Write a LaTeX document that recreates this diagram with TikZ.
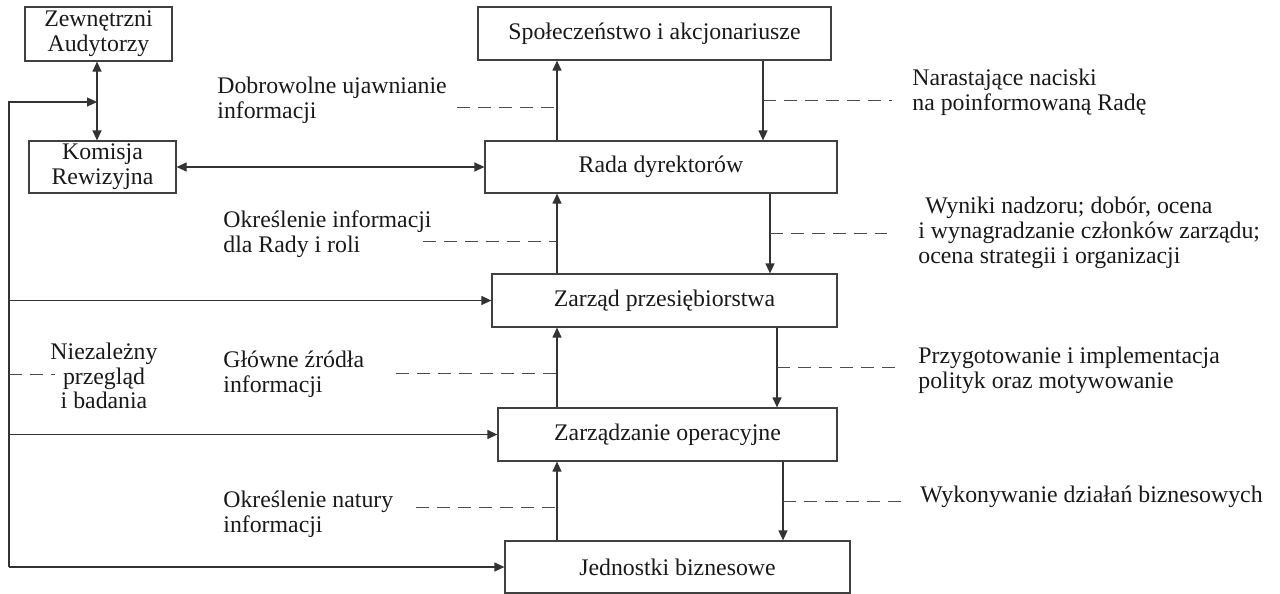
\documentclass[tikz,border=0pt]{standalone}
\usepackage{fontspec}
\setmainfont{Liberation Serif}
\usetikzlibrary{arrows.meta}
\begin{document}
\begin{tikzpicture}[x=0.5pt,y=-0.5pt,
  every node/.style={font=\fontsize{11.9}{12.4}\selectfont, text=black!90},
  box/.style={draw=black!75, line width=0.6pt, rectangle, inner sep=0pt, align=center},
  conn/.style={draw=black!80, line width=0.6pt},
  tip/.style={conn, -{Triangle[length=5pt,width=4.5pt]}},
  tips/.style={conn, {Triangle[length=5pt,width=4.5pt]}-{Triangle[length=5pt,width=4.5pt]}},
  dline/.style={draw=black!70, line width=0.5pt, dash pattern=on 6.5pt off 4pt},
  lbl/.style={inner sep=0pt, align=left, anchor=west}]
\useasboundingbox (0,0) rectangle (1280,594);

% boxes
\node[box, minimum width=73.5pt, minimum height=27pt] (aud) at (98.5,34) {Zewnętrzni\\Audytorzy};
\node[box, minimum width=73.5pt, minimum height=26pt] (kom) at (102.5,167) {Komisja\\Rewizyjna};
\node[box, minimum width=176.5pt, minimum height=26.5pt] (spo) at (654.5,33.5) {Społeczeństwo i akcjonariusze};
\node[box, minimum width=176pt, minimum height=26pt] (rada) at (661,167) {Rada dyrektorów};
\node[box, minimum width=172.5pt, minimum height=26.5pt] (zarz) at (664.5,300.5) {Zarząd przesiębiorstwa};
\node[box, minimum width=169.5pt, minimum height=26.5pt] (oper) at (667.5,434.5) {Zarządzanie operacyjne};
\node[box, minimum width=172.5pt, minimum height=26pt] (jedn) at (677.5,567) {Jednostki biznesowe};

% helper coordinates
\coordinate (ak) at (97,102);
\coordinate (fb) at (9,567);
\coordinate (upx) at (557,0);
\coordinate (d1) at (763,0);
\coordinate (d2) at (770,0);
\coordinate (d3) at (777,0);
\coordinate (d4) at (783,0);

% connectors
\draw[tips] (aud.south -| ak) -- (kom.north -| ak);
\draw[tip] (fb) |- (ak);
\draw[tip] (fb) -- (jedn.west);
\draw[tip] (fb |- zarz.west) -- (zarz.west);
\draw[tip] (fb |- oper.west) -- (oper.west);
\draw[tips] (kom.east) -- (rada.west);
\draw[tip] (rada.north -| upx) -- (spo.south -| upx);
\draw[tip] (zarz.north -| upx) -- (rada.south -| upx);
\draw[tip] (oper.north -| upx) -- (zarz.south -| upx);
\draw[tip] (jedn.north -| upx) -- (oper.south -| upx);
\draw[tip] (spo.south -| d1) -- (rada.north -| d1);
\draw[tip] (rada.south -| d2) -- (zarz.north -| d2);
\draw[tip] (zarz.south -| d3) -- (oper.north -| d3);
\draw[tip] (oper.south -| d4) -- (jedn.north -| d4);

% dashed leaders
\coordinate (l1) at (457,107);
\coordinate (l2) at (423,241);
\coordinate (l3) at (396,373);
\coordinate (l4) at (416,507);
\coordinate (n1) at (55,374);
\coordinate (r1) at (892,100);
\coordinate (r2) at (887,233);
\coordinate (r3) at (900,367);
\coordinate (r4) at (905,501);
\draw[dline] (l1) -- (l1 -| upx);
\draw[dline] (l2) -- (l2 -| upx);
\draw[dline] (l3) -- (l3 -| upx);
\draw[dline] (l4) -- (l4 -| upx);
\draw[dline] (fb |- n1) -- (n1);
\draw[dline] (r1 -| d1) -- (r1);
\draw[dline] (r2 -| d2) -- (r2);
\draw[dline] (r3 -| d3) -- (r3);
\draw[dline] (r4 -| d4) -- (r4);

% labels
\node[lbl] (t1) at (217,100) {Dobrowolne ujawnianie\\informacji};
\node[lbl] (t2) at (223,234.5) {Określenie informacji\\dla Rady i roli};
\node[lbl] (t3) at (223,374) {Główne źródła\\informacji};
\node[lbl] (t4) at (223,514) {Określenie natury\\informacji};
\node[inner sep=0pt, align=center] (t5) at (104,376) {Niezależny\\przegląd\\i badania};
\node[lbl] (t6) at (912,92) {Narastające naciski\\na poinformowaną Radę};
\node[lbl] (t7) at (918,233) {\hspace*{3.5pt}Wyniki nadzoru; dobór, ocena\\i wynagradzanie członków zarządu;\\ocena strategii i organizacji};
\node[lbl] (t8) at (918,370) {Przygotowanie i implementacja\\polityk oraz motywowanie};
\node[lbl] (t9) at (920,497) {Wykonywanie działań biznesowych};
\end{tikzpicture}
\end{document}
